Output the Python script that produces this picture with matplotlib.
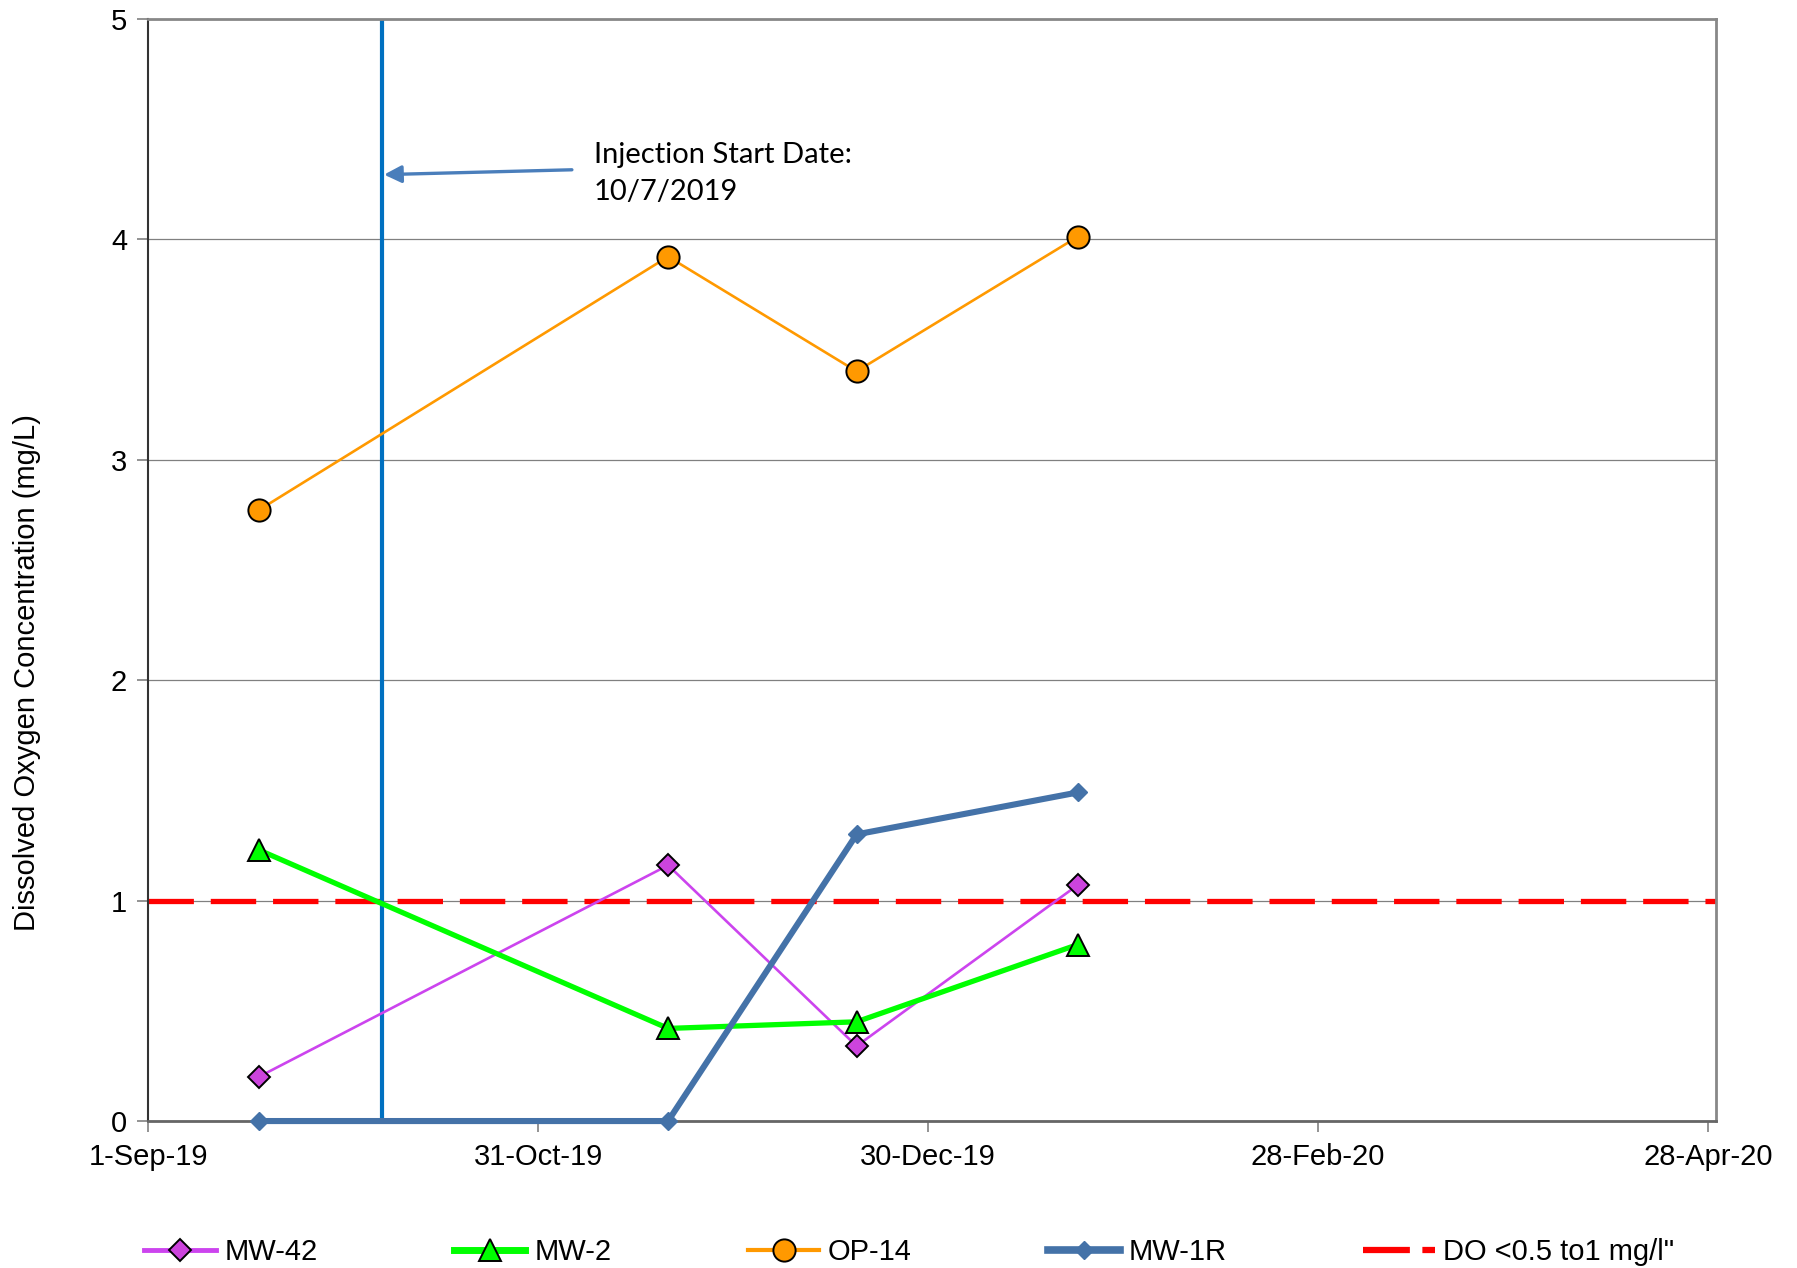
import datetime as dt
import matplotlib
matplotlib.use("Agg")
import matplotlib.pyplot as plt
from matplotlib.lines import Line2D

plt.rcParams['font.family'] = ['Liberation Sans', 'DejaVu Sans']

# ---- data ----
sample_dates = ["2019-09-18", "2019-11-20", "2019-12-19", "2020-01-22"]
mw42 = [0.20, 1.16, 0.34, 1.07]
mw2 = [1.23, 0.42, 0.45, 0.80]
op14 = [2.77, 3.92, 3.40, 4.01]
mw1r = [0.0, 0.0, 1.30, 1.49]
do_threshold = 1.0
injection_date = "2019-10-07"
x_tick_dates = ["2019-09-01", "2019-10-31", "2019-12-30", "2020-02-28", "2020-04-28"]
x_tick_labels = ["1-Sep-19", "31-Oct-19", "30-Dec-19", "28-Feb-20", "28-Apr-20"]
y_ticks = [0, 1, 2, 3, 4, 5]
series_names = ["MW-42", "MW-2", "OP-14", "MW-1R", "DO <0.5 to1 mg/l\""]

def d(s):
    return dt.datetime.strptime(s, "%Y-%m-%d")

xd = [d(s) for s in sample_dates]

fig = plt.figure(figsize=(17.97, 12.68), dpi=100)
ax = fig.add_axes([0.0824, 0.1159, 0.9549 - 0.0824, 0.9854 - 0.1159])

FS = 21

# gridlines
ax.set_axisbelow(True)
ax.yaxis.grid(True, color="#808080", lw=0.9)

# threshold
ax.axhline(do_threshold, color="#FF0000", lw=3.8, dashes=(8.6, 3.2), zorder=2)

# injection line
ax.axvline(d(injection_date), color="#0070C0", lw=3.0, zorder=2)

ax.plot(xd, mw42, color="#CC44EE", lw=1.9, marker="D", markersize=11.5,
        markerfacecolor="#CC44DD", markeredgecolor="black", markeredgewidth=1.4, zorder=4)
ax.plot(xd, mw2, color="#00FF00", lw=3.8, marker="^", markersize=16,
        markerfacecolor="#00FF00", markeredgecolor="black", markeredgewidth=1.4, zorder=4)
ax.plot(xd, op14, color="#FF9900", lw=1.9, marker="o", markersize=16,
        markerfacecolor="#FF9900", markeredgecolor="black", markeredgewidth=1.4, zorder=4)
ax.plot(xd, mw1r, color="#4472A8", lw=4.4, marker="D", markersize=9,
        markerfacecolor="#4472A8", markeredgecolor="#4472A8", zorder=5, clip_on=False)

# annotation
ax.annotate("", xy=(d("2019-10-07") + dt.timedelta(days=0.3), 4.292),
            xytext=(d("2019-11-05") + dt.timedelta(days=0.2), 4.314),
            arrowprops=dict(arrowstyle="-|>", mutation_scale=26, lw=2.4,
                            color="#4A7EBB", shrinkA=0, shrinkB=0), zorder=6)
ann_x = d("2019-09-01") + dt.timedelta(days=68.6)
ax.text(ann_x, 4.347, "Injection Start Date:", fontsize=21, family=["Lato", "DejaVu Sans"],
        va="baseline", ha="left")
ax.text(ann_x, 4.179, "10/7/2019", fontsize=21, family=["Lato", "DejaVu Sans"],
        va="baseline", ha="left")

# axes
ax.set_xlim(d("2019-09-01"), d("2020-04-28") + dt.timedelta(days=1.2))
ax.set_ylim(0, 5)
ax.set_xticks([d(s) for s in x_tick_dates])
ax.set_xticklabels(x_tick_labels)
ax.set_yticks(y_ticks)
ax.tick_params(axis="both", direction="out", length=8, width=1.2, color="#808080",
               labelsize=FS, pad=7)
ax.tick_params(axis="x", pad=8)

for side in ["top", "right"]:
    ax.spines[side].set_color("#888888")
    ax.spines[side].set_linewidth(2.0)
ax.spines["left"].set_color("#333333")
ax.spines["left"].set_linewidth(1.5)
ax.spines["bottom"].set_color("#666666")
ax.spines["bottom"].set_linewidth(2.0)

fig.text(27 / 1797, 1 - 673 / 1268, "Dissolved Oxygen Concentration (mg/L)",
         rotation=90, fontsize=FS, ha="center", va="center")

handles = [
    Line2D([], [], color="#CC44EE", lw=3.5, marker="D", markersize=11.5,
           markerfacecolor="#CC44DD", markeredgecolor="black", markeredgewidth=1.4),
    Line2D([], [], color="#00FF00", lw=5, marker="^", markersize=16,
           markerfacecolor="#00FF00", markeredgecolor="black", markeredgewidth=1.4),
    Line2D([], [], color="#FF9900", lw=3, marker="o", markersize=16,
           markerfacecolor="#FF9900", markeredgecolor="black", markeredgewidth=1.4),
    Line2D([], [], color="#4472A8", lw=5.5, marker="D", markersize=9,
           markerfacecolor="#4472A8", markeredgecolor="#4472A8"),
    Line2D([], [], color="#FF0000", lw=4.5, dashes=(7.5, 2)),
]
fig.legend(handles, series_names, loc="center", bbox_to_anchor=(0.506, 1 - 1252 / 1268),
           ncol=5, frameon=False, fontsize=FS, handlelength=2.45, handletextpad=0.3,
           columnspacing=4.68, borderpad=0)

fig.savefig("out.png", dpi=100)
